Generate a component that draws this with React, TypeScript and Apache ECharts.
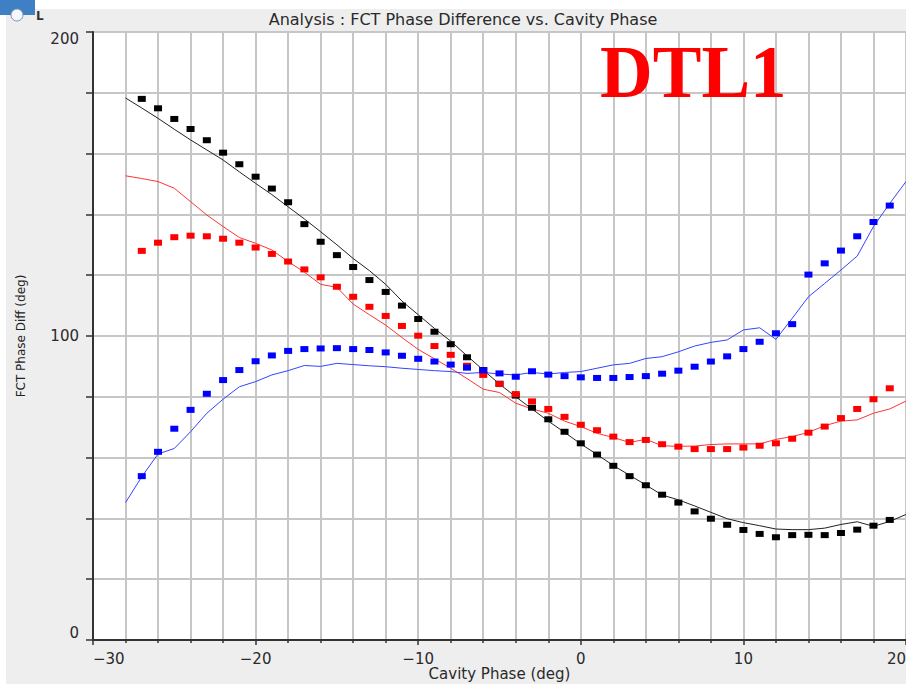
import React, { useEffect, useRef } from 'react';
import * as echarts from 'echarts';

// Cavity phase (deg) of the measured points
const pointX = [-27, -26, -25, -24, -23, -22, -21, -20, -19, -18, -17, -16, -15, -14, -13, -12, -11, -10, -9, -8, -7, -6, -5, -4, -3, -2, -1, 0, 1, 2, 3, 4, 5, 6, 7, 8, 9, 10, 11, 12, 13, 14, 15, 16, 17, 18, 19];
// Cavity phase (deg) of the model curves
const lineX = [-28, -27, -26, -25, -24, -23, -22, -21, -20, -19, -18, -17, -16, -15, -14, -13, -12, -11, -10, -9, -8, -7, -6, -5, -4, -3, -2, -1, 0, 1, 2, 3, 4, 5, 6, 7, 8, 9, 10, 11, 12, 13, 14, 15, 16, 17, 18, 19, 20];

const blackPoints = [178, 174.9, 171.4, 168.1, 164.4, 160.3, 156.5, 152.4, 148.5, 144, 136.8, 131, 126.6, 122.7, 118.4, 114.5, 110, 105.6, 101.4, 97.3, 93, 88.8, 84.3, 80.4, 76.4, 72.6, 68.5, 64.7, 61, 57.3, 53.9, 50.9, 47.8, 45.2, 42.3, 39.9, 37.9, 36.2, 34.9, 33.8, 34.5, 34.6, 34.5, 35.2, 36.3, 37.6, 39.5];
const redPoints = [128, 130.7, 132.5, 133, 132.8, 132, 130.7, 129.1, 127, 124.5, 121.9, 119.3, 116.2, 112.9, 109.6, 106.6, 103.3, 100.1, 96.7, 93.8, 90.2, 87.2, 84.2, 80.9, 78.5, 76, 73.4, 70.8, 69, 66.9, 65.1, 65.8, 64.4, 63.6, 62.8, 62.8, 62.8, 63.3, 63.9, 64.7, 66.2, 68.2, 70.2, 73, 76, 79.2, 82.8];
const bluePoints = [53.9, 61.9, 69.5, 75.7, 81, 85.5, 88.8, 91.7, 93.6, 95.1, 95.7, 95.9, 96, 95.7, 95.4, 94.6, 93.5, 92.5, 91.6, 90.6, 89.6, 88.7, 87.7, 86.6, 88.4, 87.3, 86.8, 86.4, 86.2, 86.2, 86.5, 86.8, 87.6, 88.6, 89.9, 91.6, 93.3, 95.7, 98.1, 100.9, 103.9, 120.2, 123.9, 128.1, 132.8, 137.5, 142.9];

const blackLine = [178.3, 175, 171.6, 168, 164.5, 161.2, 157.9, 154, 150.2, 146.5, 142.5, 138.5, 134.3, 130, 125.5, 121.5, 117, 111.5, 107, 102.5, 98.3, 93.5, 88.8, 84.2, 80, 76, 72, 68.3, 64.5, 61, 57.4, 54.2, 51, 47.7, 46.1, 44.1, 42, 39.9, 38.6, 37.6, 36.5, 36.3, 36.3, 36.8, 38, 38.9, 37.4, 39, 41.3];
const redLine = [152.7, 151.8, 150.8, 148.6, 144.2, 139.8, 136, 132.4, 130.5, 128.3, 124.5, 121, 117, 116, 110.5, 107, 103.6, 99.5, 95.6, 92.5, 89.4, 86, 82.5, 81.4, 77.9, 76, 74.6, 72, 70.2, 68, 66.6, 65, 66, 63.9, 63.7, 63.8, 64.3, 64.5, 64.5, 64.5, 66, 66.9, 68.3, 70.5, 72, 72.4, 74.6, 76, 78.6];
const blueLine = [45.2, 53.7, 61.2, 63, 68.5, 74.6, 79.2, 83.3, 85, 87.2, 88.6, 90.3, 90, 91, 90.6, 90.2, 89.9, 89.4, 89, 88.6, 88.3, 87.7, 88, 87.5, 87.2, 88, 87.5, 88, 88.3, 89.4, 90.5, 91, 92.6, 93.2, 94.8, 96.7, 97.9, 98.7, 102, 102.7, 98.9, 105.8, 112.9, 117.3, 121.7, 126.3, 136, 143.6, 150.8];

const titleText = 'Analysis : FCT Phase Difference vs. Cavity Phase';
const xName = 'Cavity Phase (deg)';
const yName = 'FCT Phase Diff (deg)';
const stampText = 'DTL1';

const pairs = (xs: number[], ys: number[]) => xs.map((x, i) => [x, ys[i]]);

export default function App() {
  const ref = useRef<HTMLDivElement>(null);
  useEffect(() => {
    if (!ref.current) return;
    const chart = echarts.init(ref.current, null, { renderer: 'svg' });
    const gridLine = { show: true, lineStyle: { color: '#c6c6c6', width: 2 } };
    const font = 'DejaVu Sans';
    const lineSeries = (ys: number[], color: string) => ({
      type: 'line',
      data: pairs(lineX, ys),
      showSymbol: false,
      symbol: 'none',
      lineStyle: { color, width: 1 },
      z: 3,
    });
    const pointSeries = (ys: number[], color: string) => ({
      type: 'scatter',
      data: pairs(pointX, ys),
      symbol: 'rect',
      symbolSize: [8, 6],
      itemStyle: { color, opacity: 1 },
      z: 4,
    });
    chart.setOption({
      animation: false,
      backgroundColor: '#eeeeee',
      title: {
        text: titleText,
        left: 458,
        top: 6,
        textAlign: 'center',
        textStyle: { fontFamily: font, fontSize: 16, fontWeight: 'normal', color: '#2a2a2a' },
      },
      grid: {
        left: 93,
        right: 0,
        top: 32,
        bottom: 44,
        outerBoundsMode: 'none',
        containLabel: false,
        show: true,
        backgroundColor: '#ffffff',
        borderColor: '#444',
        borderWidth: 1,
      },
      xAxis: {
        type: 'value',
        min: -30,
        max: 20,
        interval: 10,
        name: xName,
        nameLocation: 'middle',
        nameGap: 26,
        nameMoveOverlap: false,
        nameTextStyle: { fontFamily: font, fontSize: 15, color: '#2a2a2a' },
        axisLine: { show: true, onZero: false, lineStyle: { color: '#333', width: 2 } },
        axisTick: { show: true, length: 5, lineStyle: { color: '#333', width: 1.5 } },
        minorTick: { show: true, splitNumber: 5, length: 3, lineStyle: { color: '#333', width: 1.5 } },
        splitLine: gridLine,
        minorSplitLine: gridLine,
        axisLabel: {
          fontFamily: font,
          fontSize: 15,
          color: '#2a2a2a',
          margin: 11,
          alignMinLabel: 'left',
          alignMaxLabel: 'right',
          formatter: (v: number) => (v < 0 ? '\u2212' + Math.abs(v) : String(v)),
        },
      },
      yAxis: {
        type: 'value',
        min: 0,
        max: 200,
        interval: 100,
        name: yName,
        nameLocation: 'middle',
        nameGap: 66,
        nameMoveOverlap: false,
        nameTextStyle: { fontFamily: font, fontSize: 12, color: '#222' },
        axisLine: { show: true, onZero: false, lineStyle: { color: '#333', width: 2 } },
        axisTick: { show: true, length: 7, lineStyle: { color: '#333', width: 1.5 } },
        minorTick: { show: true, splitNumber: 5, length: 7, lineStyle: { color: '#333', width: 1.5 } },
        splitLine: gridLine,
        minorSplitLine: gridLine,
        axisLabel: {
          fontFamily: font,
          fontSize: 15,
          lineHeight: 14,
          color: '#2a2a2a',
          margin: 14,
          verticalAlignMinLabel: 'bottom',
          verticalAlignMaxLabel: 'top',
        },
      },
      graphic: [
        { type: 'rect', shape: { x: 0, y: 0, width: 906, height: 9 }, style: { fill: '#ffffff' }, silent: true },
        { type: 'rect', shape: { x: 0, y: 0, width: 6, height: 684 }, style: { fill: '#ffffff' }, silent: true },
        { type: 'rect', shape: { x: 0, y: 0, width: 35, height: 15 }, style: { fill: '#3f7fc4' }, silent: true },
        {
          type: 'circle',
          shape: { cx: 17, cy: 15, r: 6 },
          style: { fill: '#f4f8fc', stroke: '#7d93ad', lineWidth: 1 },
          silent: true,
        },
        {
          type: 'text',
          x: 36,
          y: 16,
          style: { text: 'L', fill: '#333', font: 'bold 12px "DejaVu Sans"', align: 'left', verticalAlign: 'middle' },
          silent: true,
        },
        {
          type: 'text',
          x: 600,
          y: 72,
          z: 100,
          style: {
            text: stampText,
            fill: '#ff0000',
            font: 'bold 73px "Liberation Serif"',
            align: 'left',
            verticalAlign: 'middle',
          },
          silent: true,
        },
      ],
      series: [
        lineSeries(blackLine, '#222222'),
        lineSeries(redLine, '#ff3333'),
        lineSeries(blueLine, '#3344ff'),
        pointSeries(blackPoints, '#000000'),
        pointSeries(redPoints, '#ff0000'),
        pointSeries(bluePoints, '#0000ff'),
      ],
    });
    return () => chart.dispose();
  }, []);
  return (
    <div
      ref={ref}
      style={{ position: 'fixed', left: 0, top: 0, width: 906, height: 684 }}
    />
  );
}
